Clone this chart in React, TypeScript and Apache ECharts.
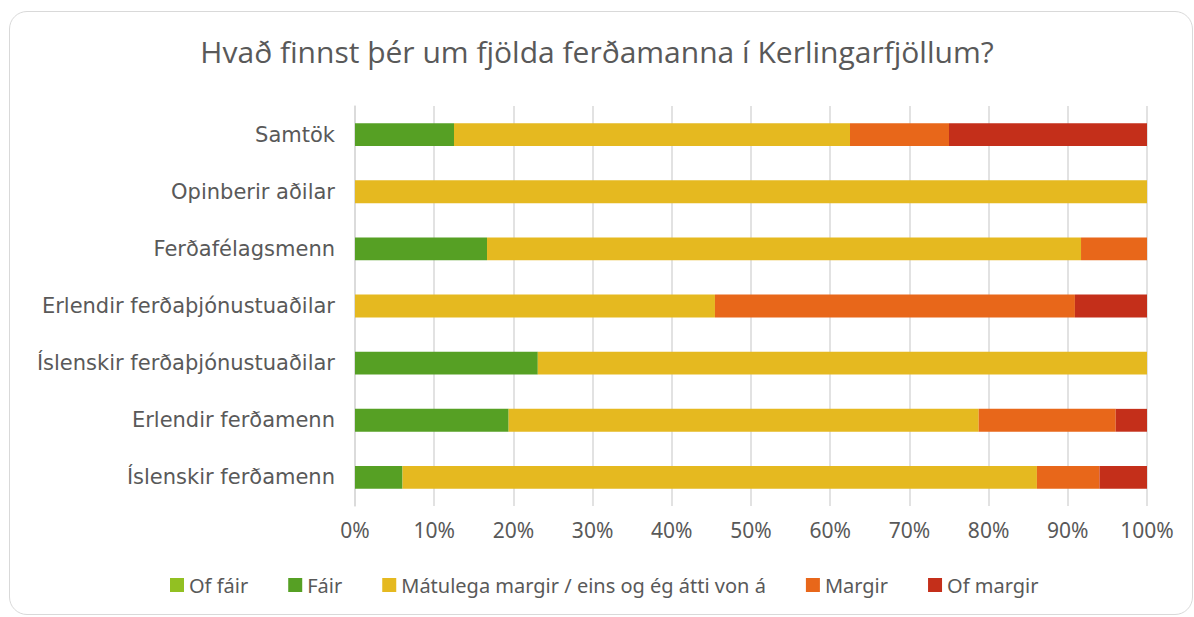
import React, { useEffect, useRef } from "react";
import * as echarts from "echarts";

const categories = [
  "Íslenskir ferðamenn",
  "Erlendir ferðamenn",
  "Íslenskir ferðaþjónustuaðilar",
  "Erlendir ferðaþjónustuaðilar",
  "Ferðafélagsmenn",
  "Opinberir aðilar",
  "Samtök",
];
const ofFair = [0, 0, 0, 0, 0, 0, 0];
const fair = [6.0, 19.4, 23.08, 0, 16.67, 0, 12.5];
const matulega = [80.1, 59.35, 76.92, 45.45, 75.0, 100, 50.0];
const margir = [7.9, 17.3, 0, 45.45, 8.33, 0, 12.5];
const ofMargir = [6.0, 3.95, 0, 9.1, 0, 0, 25.0];
const seriesNames = [
  "Of fáir",
  "Fáir",
  "Mátulega margir / eins og ég átti von á",
  "Margir",
  "Of margir",
];
const colors = ["#92C022", "#56A024", "#E5B920", "#E8671A", "#C42F1A"];
const title = "Hvað finnst þér um fjölda ferðamanna í Kerlingarfjöllum?";

export default function App() {
  const ref = useRef<HTMLDivElement>(null);
  useEffect(() => {
    document.body.style.margin = "0";
    const chart = echarts.init(ref.current!, null, { renderer: "svg" });
    const data = [ofFair, fair, matulega, margir, ofMargir];
    chart.setOption({
      animation: false,
      title: {
        text: title,
        left: "center",
        top: 31,
        textStyle: {
          fontFamily: "Open Sans",
          fontSize: 30,
          fontWeight: "normal",
          color: "#595959",
        },
      },
      legend: {
        bottom: 17,
        left: 165,
        itemWidth: 14,
        itemHeight: 14,
        itemGap: 40,
        icon: "rect",
        textStyle: { fontFamily: "Noto Sans", fontSize: 20, color: "#595959" },
        data: seriesNames,
      },
      grid: { left: 355, right: 47, top: 106, bottom: 111, containLabel: false },
      xAxis: {
        type: "value",
        min: 0,
        max: 100,
        interval: 10,
        axisLabel: {
          formatter: "{value}%",
          fontFamily: "Noto Sans",
          fontSize: 21,
          color: "#595959",
          margin: 13,
        },
        axisLine: { show: false },
        axisTick: { show: false },
        splitLine: { lineStyle: { color: "#d9d9d9", width: 1.5 } },
      },
      yAxis: {
        type: "category",
        data: categories,
        axisLine: { show: true, lineStyle: { color: "#d9d9d9", width: 1.5 } },
        axisTick: { show: false },
        axisLabel: {
          fontFamily: "DejaVu Sans",
          fontSize: 21,
          color: "#595959",
          margin: 20,
        },
      },
      series: seriesNames.map((name, i) => ({
        name,
        type: "bar",
        stack: "total",
        barWidth: "40%",
        itemStyle: { color: colors[i] },
        data: data[i],
      })),
    });
    return () => chart.dispose();
  }, []);
  return (
    <div style={{ position: "relative", width: 1194, height: 617, overflow: "hidden", background: "#fff" }}>
      <div
        style={{
          position: "absolute",
          left: 9,
          top: 11,
          width: 1184,
          height: 604,
          border: "1.5px solid #d9d9d9",
          borderRadius: 18,
          boxSizing: "border-box",
        }}
      />
      <div ref={ref} style={{ position: "absolute", left: 0, top: 0, width: 1194, height: 617 }} />
    </div>
  );
}
